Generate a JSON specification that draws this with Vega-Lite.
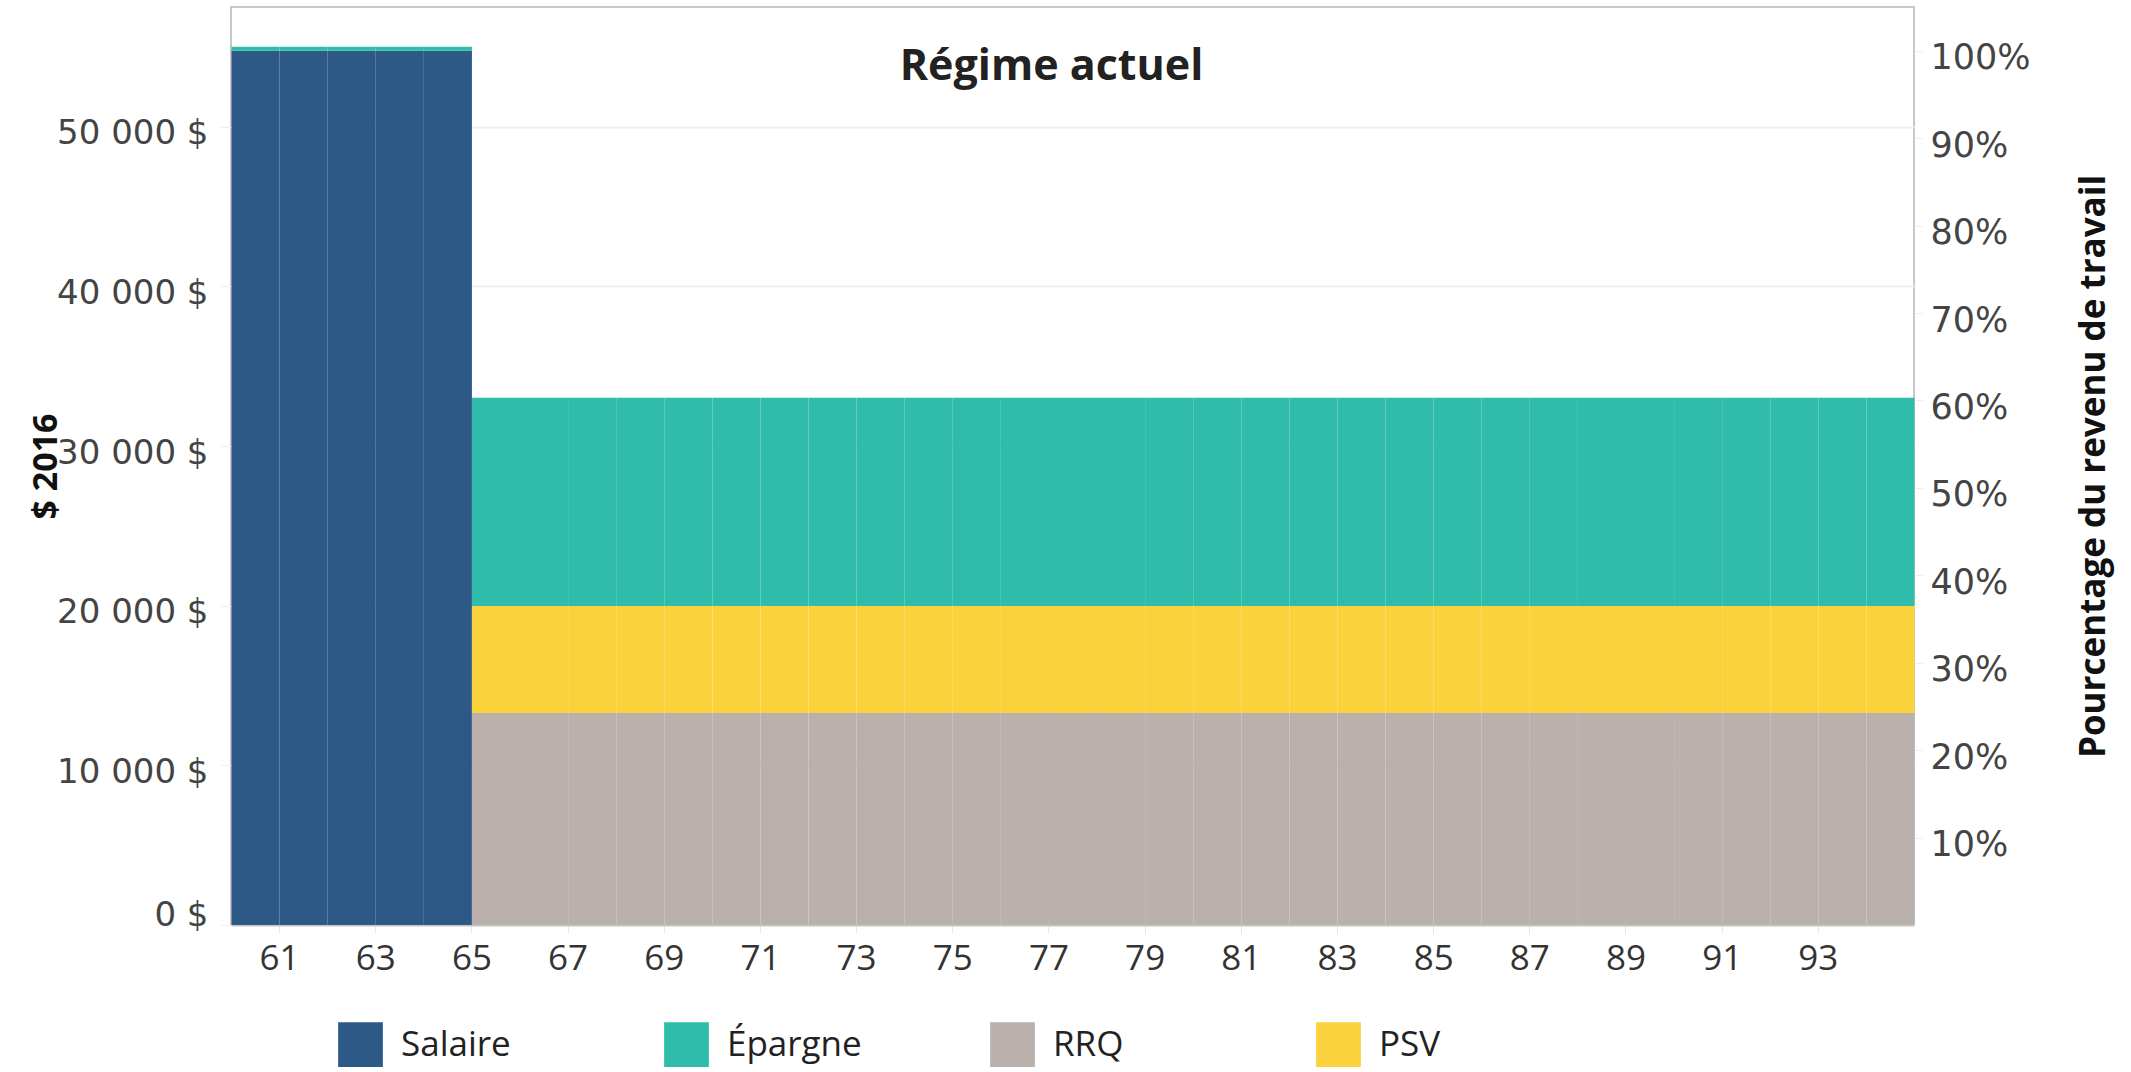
{
  "$schema": "https://vega.github.io/schema/vega-lite/v6.json",
  "autosize": {"type": "none"},
  "width": 1683,
  "height": 918,
  "padding": {"left": 231, "top": 7, "right": 217, "bottom": 147},
  "background": "white",
  "config": {"view": {"stroke": "#c8c8c8", "strokeWidth": 2}},
  "title": {"text": "Régime actuel", "font": "Open Sans", "fontSize": 43, "fontWeight": "bold", "color": "#222", "anchor": "middle", "offset": -82, "dx": -21},
  "data": {"values": [
    {"age": 60, "source": "Salaire", "value": 54760}, {"age": 60, "source": "Épargne", "value": 250},
    {"age": 61, "source": "Salaire", "value": 54760}, {"age": 61, "source": "Épargne", "value": 250},
    {"age": 62, "source": "Salaire", "value": 54760}, {"age": 62, "source": "Épargne", "value": 250},
    {"age": 63, "source": "Salaire", "value": 54760}, {"age": 63, "source": "Épargne", "value": 250},
    {"age": 64, "source": "Salaire", "value": 54760}, {"age": 64, "source": "Épargne", "value": 250},
    {"age": 65, "source": "RRQ", "value": 13280}, {"age": 65, "source": "PSV", "value": 6700}, {"age": 65, "source": "Épargne", "value": 13040},
    {"age": 66, "source": "RRQ", "value": 13280}, {"age": 66, "source": "PSV", "value": 6700}, {"age": 66, "source": "Épargne", "value": 13040},
    {"age": 67, "source": "RRQ", "value": 13280}, {"age": 67, "source": "PSV", "value": 6700}, {"age": 67, "source": "Épargne", "value": 13040},
    {"age": 68, "source": "RRQ", "value": 13280}, {"age": 68, "source": "PSV", "value": 6700}, {"age": 68, "source": "Épargne", "value": 13040},
    {"age": 69, "source": "RRQ", "value": 13280}, {"age": 69, "source": "PSV", "value": 6700}, {"age": 69, "source": "Épargne", "value": 13040},
    {"age": 70, "source": "RRQ", "value": 13280}, {"age": 70, "source": "PSV", "value": 6700}, {"age": 70, "source": "Épargne", "value": 13040},
    {"age": 71, "source": "RRQ", "value": 13280}, {"age": 71, "source": "PSV", "value": 6700}, {"age": 71, "source": "Épargne", "value": 13040},
    {"age": 72, "source": "RRQ", "value": 13280}, {"age": 72, "source": "PSV", "value": 6700}, {"age": 72, "source": "Épargne", "value": 13040},
    {"age": 73, "source": "RRQ", "value": 13280}, {"age": 73, "source": "PSV", "value": 6700}, {"age": 73, "source": "Épargne", "value": 13040},
    {"age": 74, "source": "RRQ", "value": 13280}, {"age": 74, "source": "PSV", "value": 6700}, {"age": 74, "source": "Épargne", "value": 13040},
    {"age": 75, "source": "RRQ", "value": 13280}, {"age": 75, "source": "PSV", "value": 6700}, {"age": 75, "source": "Épargne", "value": 13040},
    {"age": 76, "source": "RRQ", "value": 13280}, {"age": 76, "source": "PSV", "value": 6700}, {"age": 76, "source": "Épargne", "value": 13040},
    {"age": 77, "source": "RRQ", "value": 13280}, {"age": 77, "source": "PSV", "value": 6700}, {"age": 77, "source": "Épargne", "value": 13040},
    {"age": 78, "source": "RRQ", "value": 13280}, {"age": 78, "source": "PSV", "value": 6700}, {"age": 78, "source": "Épargne", "value": 13040},
    {"age": 79, "source": "RRQ", "value": 13280}, {"age": 79, "source": "PSV", "value": 6700}, {"age": 79, "source": "Épargne", "value": 13040},
    {"age": 80, "source": "RRQ", "value": 13280}, {"age": 80, "source": "PSV", "value": 6700}, {"age": 80, "source": "Épargne", "value": 13040},
    {"age": 81, "source": "RRQ", "value": 13280}, {"age": 81, "source": "PSV", "value": 6700}, {"age": 81, "source": "Épargne", "value": 13040},
    {"age": 82, "source": "RRQ", "value": 13280}, {"age": 82, "source": "PSV", "value": 6700}, {"age": 82, "source": "Épargne", "value": 13040},
    {"age": 83, "source": "RRQ", "value": 13280}, {"age": 83, "source": "PSV", "value": 6700}, {"age": 83, "source": "Épargne", "value": 13040},
    {"age": 84, "source": "RRQ", "value": 13280}, {"age": 84, "source": "PSV", "value": 6700}, {"age": 84, "source": "Épargne", "value": 13040},
    {"age": 85, "source": "RRQ", "value": 13280}, {"age": 85, "source": "PSV", "value": 6700}, {"age": 85, "source": "Épargne", "value": 13040},
    {"age": 86, "source": "RRQ", "value": 13280}, {"age": 86, "source": "PSV", "value": 6700}, {"age": 86, "source": "Épargne", "value": 13040},
    {"age": 87, "source": "RRQ", "value": 13280}, {"age": 87, "source": "PSV", "value": 6700}, {"age": 87, "source": "Épargne", "value": 13040},
    {"age": 88, "source": "RRQ", "value": 13280}, {"age": 88, "source": "PSV", "value": 6700}, {"age": 88, "source": "Épargne", "value": 13040},
    {"age": 89, "source": "RRQ", "value": 13280}, {"age": 89, "source": "PSV", "value": 6700}, {"age": 89, "source": "Épargne", "value": 13040},
    {"age": 90, "source": "RRQ", "value": 13280}, {"age": 90, "source": "PSV", "value": 6700}, {"age": 90, "source": "Épargne", "value": 13040},
    {"age": 91, "source": "RRQ", "value": 13280}, {"age": 91, "source": "PSV", "value": 6700}, {"age": 91, "source": "Épargne", "value": 13040},
    {"age": 92, "source": "RRQ", "value": 13280}, {"age": 92, "source": "PSV", "value": 6700}, {"age": 92, "source": "Épargne", "value": 13040},
    {"age": 93, "source": "RRQ", "value": 13280}, {"age": 93, "source": "PSV", "value": 6700}, {"age": 93, "source": "Épargne", "value": 13040},
    {"age": 94, "source": "RRQ", "value": 13280}, {"age": 94, "source": "PSV", "value": 6700}, {"age": 94, "source": "Épargne", "value": 13040}
  ]},
  "transform": [{"calculate": "indexof(['Salaire','RRQ','PSV','Épargne'], datum.source)", "as": "ord"}],
  "layer": [
    {
      "mark": {"type": "bar", "binSpacing": 0},
      "encoding": {
        "x": {
          "field": "age", "type": "quantitative",
          "bin": {"step": 1, "extent": [60, 95]},
          "scale": {"domain": [60, 95], "nice": false, "zero": false},
          "axis": {
            "title": null, "values": [61, 63, 65, 67, 69, 71, 73, 75, 77, 79, 81, 83, 85, 87, 89, 91, 93],
            "labelFont": "Open Sans", "labelFontSize": 35, "labelColor": "#333", "labelAngle": 0,
            "tickSize": 8, "tickColor": "#e6e6e6", "labelPadding": 8,
            "domain": true, "domainColor": "#c8c8c8", "domainWidth": 2, "grid": false
          }
        },
        "y": {
          "field": "value", "type": "quantitative", "stack": "zero",
          "scale": {"domain": [0, 57500], "nice": false},
          "axis": {
            "title": "$ 2016", "titleFont": "Open Sans", "titleFontSize": 34, "titleFontWeight": "bold", "titleColor": "#111",
            "titleX": -168, "titleY": 459, "titleAngle": 270, "titleAlign": "center", "titleBaseline": "bottom",
            "values": [0, 10000, 20000, 30000, 40000, 50000],
            "labelExpr": "replace(format(datum.value, ','), ',', ' ') + ' $'",
            "labelFont": "DejaVu Sans", "labelFontSize": 34, "labelColor": "#444",
            "tickSize": 10, "tickColor": "#eeeeee", "labelPadding": 13, "labelFlush": true, "labelOffset": 7, "labelFlushOffset": 0,
            "domain": false, "grid": true, "gridColor": "#efefef", "gridWidth": 2
          }
        },
        "color": {
          "field": "source", "type": "nominal",
          "scale": {"domain": ["Salaire", "Épargne", "RRQ", "PSV"], "range": ["#2c5985", "#2fbcab", "#bab1ac", "#f9d23c"]},
          "legend": {
            "orient": "none", "legendX": 107, "legendY": 1015, "direction": "horizontal", "columns": 4,
            "title": null, "symbolType": "square", "symbolSize": 2000, "symbolStrokeWidth": 0, "symbolOpacity": 1,
            "labelFont": "Open Sans", "labelFontSize": 35, "labelColor": "#222", "labelOffset": 18,
            "columnPadding": 128, "gridAlign": "all", "padding": 0
          }
        },
        "order": {"field": "ord", "type": "quantitative"}
      }
    },
    {
      "mark": {"type": "point", "opacity": 0},
      "encoding": {
        "y": {
          "datum": 0, "type": "quantitative",
          "scale": {"domain": [0, 1.05], "nice": false},
          "axis": {
            "orient": "right", "values": [0.1, 0.2, 0.3, 0.4, 0.5, 0.6, 0.7, 0.8, 0.9, 1.0], "format": ".0%",
            "labelFont": "DejaVu Sans", "labelFontSize": 35, "labelColor": "#444", "labelOffset": 7,
            "tickSize": 8, "tickColor": "#eeeeee", "labelPadding": 8, "domain": false, "grid": false,
            "title": "Pourcentage du revenu de travail", "titleFont": "Open Sans", "titleFontSize": 35, "titleFontWeight": "bold", "titleColor": "#111",
            "titleAngle": 270, "titleX": 190, "titleY": 459, "titleAlign": "center", "titleBaseline": "alphabetic"
          }
        }
      }
    }
  ],
  "resolve": {"scale": {"y": "independent"}, "axis": {"y": "independent"}}
}
